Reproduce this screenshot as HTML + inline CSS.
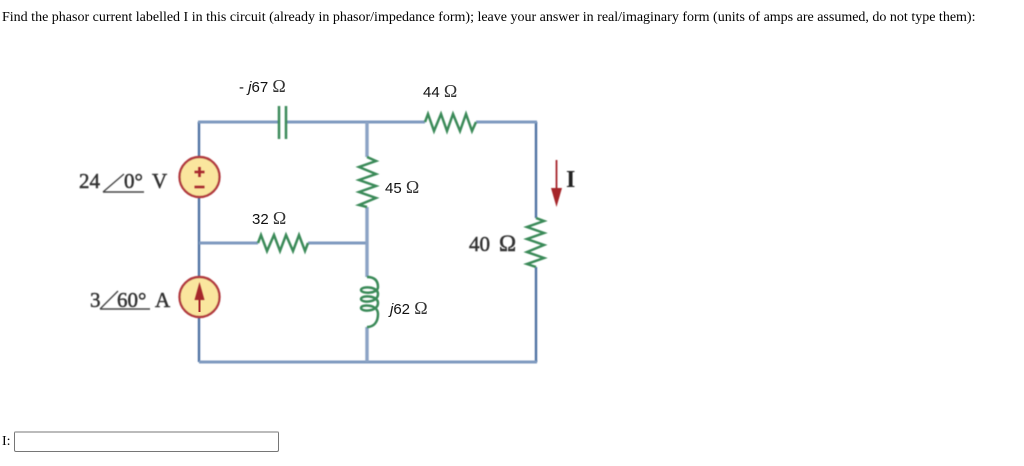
<!DOCTYPE html>
<html><head><meta charset="utf-8">
<style>
html,body{margin:0;padding:0;background:#fff;width:1024px;height:466px;overflow:hidden}
.t{position:absolute;left:2px;top:10px;font:14px "Liberation Serif",serif;color:#000;white-space:nowrap}
.l{position:absolute;left:2px;top:434px;font:14px "Liberation Serif",serif;color:#000}
.i{position:absolute;left:14px;top:431px;width:265px;height:21px;box-sizing:border-box;border:1px solid #767676;border-top:2px solid #bbb;border-radius:2px;background:#fff}
svg{position:absolute;left:0;top:0}
.wv{fill:none;stroke:#4f72a3;stroke-width:2.4;filter:url(#b)}
.wh{fill:none;stroke:#7f9abf;stroke-width:3;filter:url(#b)}
.wl{fill:none;stroke:#8ba3c4;stroke-width:3.4;filter:url(#b)}
.g{fill:none;stroke:#3a8a58;stroke-width:2.5;stroke-linejoin:miter;filter:url(#b)}
.a{font-family:"Liberation Sans",sans-serif;font-size:15px;fill:#111}
.o{font-family:"Liberation Serif",serif;font-size:18px;fill:#333}
.s{font-family:"Liberation Serif",serif;font-size:21px;fill:#333;stroke:#333;stroke-width:.5;filter:url(#b)}
</style></head><body>
<div class="t">Find the phasor current labelled I in this circuit (already in phasor/impedance form); leave your answer in real/imaginary form (units of amps are assumed, do not type them):</div>
<svg width="1024" height="466" viewBox="0 0 1024 466">
<defs><filter id="b" filterUnits="userSpaceOnUse" x="0" y="0" width="1024" height="466"><feGaussianBlur stdDeviation="0.5"/></filter></defs>
<path class="wv" d="M199 157V122M536 122V218M536 267V362M199 362V317M199 277V197"/>
<path class="wh" d="M198 122H279M286 122H425M476 122H537M199 243H258M308 243H367M199 362H537"/>
<path class="wl" d="M367 122V157M367 207V277M367 327V362"/>
<path class="g" d="M279 106V139M286 106V139"/>
<path class="g" d="M425 122L428 114L434 131L441 114L447 131L453 114L460 131L466 114L472 131L476 122"/>
<path class="g" d="M258 243L261 235L267 251L274 235L280 251L286 235L293 251L299 235L305 251L308 243"/>
<path class="g" d="M367 157L376 161L359 167L376 174L359 180L376 186L359 192L376 198L359 205L367 207"/>
<path class="g" d="M536 218L544 221L527 227L544 233L527 239L544 245L527 252L544 258L527 264L536 267"/>
<path class="g" d="M367 277C376 277 378 282 378 287C378 294 361 294 361 290C361 286 378 286 378 294C378 303 361 303 361 299C361 295 378 295 378 303C378 312 361 312 361 308C361 304 378 304 378 314C378 322 374 327 367 327"/>
<circle cx="199.500" cy="177" r="20" fill="#fae69e" stroke="#b23b3f" stroke-width="2.4" filter="url(#b)"/>
<path d="M199.500 167V177M194.500 172H204.500M194.500 187H204.500" stroke="#a6252b" stroke-width="2.600" fill="none" filter="url(#b)"/>
<circle cx="199.500" cy="297" r="20" fill="#fae69e" stroke="#b23b3f" stroke-width="2.4" filter="url(#b)"/>
<path d="M199.500 312V295" stroke="#a6252b" stroke-width="2" fill="none"/>
<path d="M199.500 282L204.500 300H194.500Z" fill="#a6252b" filter="url(#b)"/>
<path d="M556.500 160V190" stroke="#a6252b" stroke-width="1.800" fill="none" filter="url(#b)"/>
<path d="M551 188H562L556.500 207Z" fill="#a6252b" filter="url(#b)"/>

<text class="a" x="239" y="92">- <tspan font-style="italic">j</tspan>67 <tspan class="o">Ω</tspan></text>
<text class="a" x="423" y="97">44 <tspan class="o">Ω</tspan></text>
<text class="a" x="385" y="193">45 <tspan class="o">Ω</tspan></text>
<text class="a" x="252" y="224">32 <tspan class="o">Ω</tspan></text>
<text class="a" x="390" y="314"><tspan font-style="italic">j</tspan>62 <tspan class="o">Ω</tspan></text>
<text class="s" x="469" y="251">40<tspan x="499" font-size="23">Ω</tspan></text>

<text class="s" x="79" y="188">24</text>
<path d="M103 192H144M103 192L124 174" stroke="#444" stroke-width="1.400" fill="none" filter="url(#b)"/>
<text class="s" x="124" y="188">0°</text>
<text class="s" x="152" y="188">V</text>

<text class="s" x="90" y="307">3</text>
<path d="M100 309H150M100 309L118 291" stroke="#444" stroke-width="1.400" fill="none" filter="url(#b)"/>
<text class="s" x="117" y="307">60°</text>
<text class="s" x="155" y="307">A</text>

<text x="566" y="187" font-family="Liberation Serif,serif" font-size="24" font-weight="bold" fill="#222" filter="url(#b)">I</text>
</svg>
<div class="l">I:</div>
<div class="i"></div>
</body></html>
